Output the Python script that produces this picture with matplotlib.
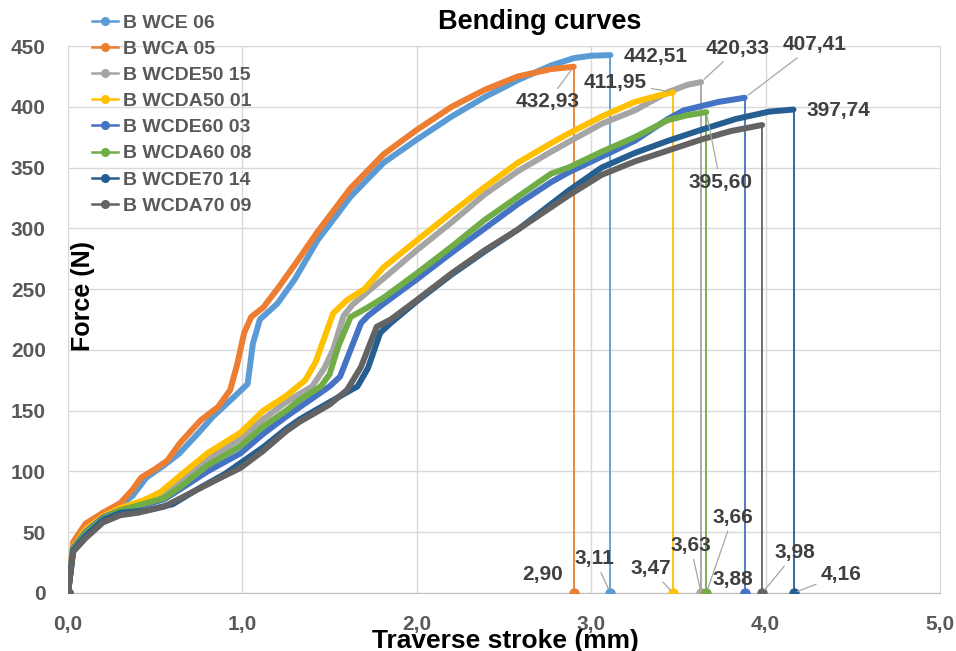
import matplotlib
matplotlib.use("Agg")
import matplotlib.pyplot as plt
from matplotlib.lines import Line2D

plt.rcParams['font.family'] = ['Liberation Sans', 'DejaVu Sans']
plt.rcParams['font.weight'] = 'bold'

names = ['B WCE 06', 'B WCA 05', 'B WCDE50 15', 'B WCDA50 01',
         'B WCDE60 03', 'B WCDA60 08', 'B WCDE70 14', 'B WCDA70 09']
colors = ['#5B9BD5', '#ED7D31', '#A5A5A5', '#FFC000',
          '#4472C4', '#70AD47', '#255E91', '#636363']

# traverse stroke (mm) / force (N)
wce06_x = [0, 0.03, 0.1, 0.2, 0.3, 0.37, 0.45, 0.55, 0.64, 0.75, 0.83, 0.95, 1.03, 1.06, 1.10, 1.2, 1.3,
           1.43, 1.62, 1.81, 2.0, 2.2, 2.39, 2.58, 2.77, 2.9, 3.0, 3.11]
wce06_f = [0, 40, 55, 66, 72, 80, 95, 105, 115, 132, 145, 161, 172, 205, 225, 238, 258,
           290, 326, 354, 373, 392, 408, 422, 434, 440, 442, 442.51]

wca05_x = [0, 0.03, 0.1, 0.2, 0.3, 0.37, 0.42, 0.5, 0.57, 0.64, 0.76, 0.86, 0.93, 0.97, 1.01, 1.05, 1.12,
           1.2, 1.3, 1.43, 1.62, 1.81, 2.0, 2.2, 2.39, 2.58, 2.77, 2.90]
wca05_f = [0, 42, 57, 66, 74, 85, 95, 102, 109, 123, 142, 153, 167, 188, 214, 227, 235,
           250, 270, 297, 333, 361, 381, 400, 414, 425, 431, 432.93]

wcde50_x = [0, 0.03, 0.1, 0.2, 0.3, 0.45, 0.55, 0.65, 0.8, 0.99, 1.12, 1.25, 1.4, 1.47, 1.52, 1.58, 1.63,
            1.77, 2.0, 2.2, 2.39, 2.58, 2.77, 2.87, 3.06, 3.25, 3.44, 3.55, 3.63]
wcde50_f = [0, 37, 50, 62, 69, 75, 82, 92, 110, 127, 143, 157, 170, 185, 200, 228, 237,
            254, 282, 305, 328, 347, 363, 371, 386, 397, 412, 418, 420.33]

wcda50_x = [0, 0.03, 0.1, 0.2, 0.3, 0.43, 0.53, 0.63, 0.8, 0.99, 1.12, 1.25, 1.36, 1.42, 1.47, 1.52, 1.6,
            1.7, 1.81, 2.0, 2.2, 2.39, 2.58, 2.77, 2.87, 3.06, 3.25, 3.38, 3.47]
wcda50_f = [0, 38, 52, 63, 70, 76, 83, 95, 115, 132, 150, 162, 175, 190, 210, 230, 241,
            250, 268, 290, 313, 334, 354, 370, 378, 392, 404, 409, 411.95]

wcde60_x = [0, 0.03, 0.1, 0.2, 0.3, 0.45, 0.55, 0.65, 0.8, 0.99, 1.12, 1.25, 1.33, 1.5, 1.56, 1.62, 1.68,
            1.72, 1.81, 2.0, 2.2, 2.39, 2.58, 2.77, 2.87, 3.06, 3.25, 3.44, 3.53, 3.73, 3.88]
wcde60_f = [0, 37, 50, 62, 68, 73, 77, 86, 100, 115, 131, 145, 153, 170, 178, 200, 222,
            228, 238, 258, 280, 300, 320, 338, 346, 359, 372, 390, 397, 404, 407.41]

wcda60_x = [0, 0.03, 0.1, 0.2, 0.3, 0.45, 0.55, 0.65, 0.8, 0.99, 1.12, 1.25, 1.33, 1.45, 1.5, 1.55, 1.62,
            1.72, 1.81, 2.0, 2.2, 2.39, 2.58, 2.77, 2.87, 3.06, 3.25, 3.44, 3.55, 3.66]
wcda60_f = [0, 36, 49, 61, 68, 74, 78, 88, 105, 121, 137, 150, 159, 170, 180, 203, 227,
            235, 243, 263, 285, 307, 326, 345, 350, 363, 375, 389, 393, 395.60]

wcde70_x = [0, 0.03, 0.1, 0.2, 0.3, 0.45, 0.6, 0.75, 0.9, 0.99, 1.12, 1.25, 1.33, 1.5, 1.66, 1.72, 1.79,
            1.85, 2.0, 2.2, 2.39, 2.58, 2.87, 3.06, 3.25, 3.44, 3.63, 3.83, 4.02, 4.16]
wcde70_f = [0, 35, 47, 60, 66, 68, 73, 86, 98, 107, 120, 135, 143, 157, 170, 185, 214,
            222, 240, 262, 281, 299, 331, 350, 362, 372, 381, 390, 396, 397.74]

wcda70_x = [0, 0.03, 0.1, 0.2, 0.3, 0.4, 0.55, 0.7, 0.85, 0.99, 1.12, 1.25, 1.33, 1.5, 1.6, 1.68, 1.77,
            1.85, 2.0, 2.2, 2.39, 2.58, 2.87, 3.06, 3.25, 3.44, 3.63, 3.8, 3.98]
wcda70_f = [0, 34, 45, 58, 64, 66, 71, 82, 93, 103, 117, 133, 141, 155, 167, 186, 219,
            225, 241, 263, 282, 299, 327, 344, 355, 364, 373, 380, 385]

series_x = [wce06_x, wca05_x, wcde50_x, wcda50_x, wcde60_x, wcda60_x, wcde70_x, wcda70_x]
series_f = [wce06_f, wca05_f, wcde50_f, wcda50_f, wcde60_f, wcda60_f, wcde70_f, wcda70_f]

# label placement (data coords) and whether a leader line is drawn
peak_pos = [(3.37, 441), (2.75, 404), (3.84, 448), (3.14, 420), (4.28, 451), (3.74, 338), (4.42, 397), None]
peak_lead = [False, True, True, True, True, True, False, False]
stroke_pos = [(3.02, 28), (2.72, 15), (3.57, 39), (3.34, 20), (3.81, 11), (3.81, 62), (4.43, 15), (4.17, 33)]
stroke_lead = [True, False, True, True, False, True, True, True]


def fmt(v):
    return f"{v:.2f}".replace('.', ',')


fig = plt.figure(figsize=(9.56, 6.51), dpi=100)
ax = fig.add_axes([68 / 956, 1 - 593 / 651, 872 / 956, 547 / 651])

lab_kw = dict(fontsize=15, fontweight='bold', color='#404040', ha='center', va='center')
lead_kw = dict(arrowstyle='-', color='#A6A6A6', lw=0.9, shrinkA=1, shrinkB=3)

for i in range(len(names)):
    xs, fs, c = series_x[i], series_f[i], colors[i]
    z = 3 + i
    ax.plot(xs, fs, color=c, lw=4.3, solid_capstyle='round', solid_joinstyle='round', zorder=z)
    ax.plot([xs[-1], xs[-1]], [fs[-1], 0], color=c, lw=1.3, zorder=z)
    ax.plot([xs[0], xs[-1]], [fs[0], 0], ls='none', marker='o', ms=6.5, color=c, zorder=z)

    if peak_pos[i] is not None:
        ap = lead_kw if peak_lead[i] else None
        ax.annotate(fmt(fs[-1]), xy=(xs[-1], fs[-1]), xytext=peak_pos[i],
                    arrowprops=ap, zorder=20, **lab_kw)
    ap = lead_kw if stroke_lead[i] else None
    ax.annotate(fmt(xs[-1]), xy=(xs[-1], 0), xytext=stroke_pos[i],
                arrowprops=ap, zorder=20, **lab_kw)

ax.set_xlim(0, 5)
ax.set_ylim(0, 450)
ax.set_xticks(range(6))
ax.set_xticklabels([f"{v},0" for v in range(6)])
ax.set_yticks(range(0, 451, 50))
ax.grid(True, color='#D9D9D9', lw=1)
ax.set_axisbelow(True)
for s in ax.spines.values():
    s.set_color('#D9D9D9')
ax.spines['bottom'].set_color('#BFBFBF')
ax.tick_params(length=0, labelsize=15, labelcolor='#595959', pad=16)
for t in ax.get_xticklabels() + ax.get_yticklabels():
    t.set_fontweight('bold')

handles = [Line2D([], [], color=c, lw=1.8, marker='o', ms=5.5) for c in colors]
fig.legend(handles, names, loc='upper left', bbox_to_anchor=(92 / 956, 1 - 14 / 651),
           frameon=False, fontsize=14, labelcolor='#595959', handlelength=1.34,
           handletextpad=0.26, labelspacing=0.44, borderpad=0, borderaxespad=0)

fig.text(540 / 956, 1 - 22 / 651, 'Bending curves', fontsize=19.5, fontweight='bold',
         color='black', ha='center', va='center')
fig.text(83 / 956, 1 - 296 / 651, 'Force (N)', fontsize=18, fontweight='bold',
         color='black', ha='center', va='center', rotation=90)
fig.text(505 / 956, 1 - 641 / 651, 'Traverse stroke (mm)', fontsize=19, fontweight='bold',
         color='black', ha='center', va='center')

fig.savefig('out.png', dpi=100)
